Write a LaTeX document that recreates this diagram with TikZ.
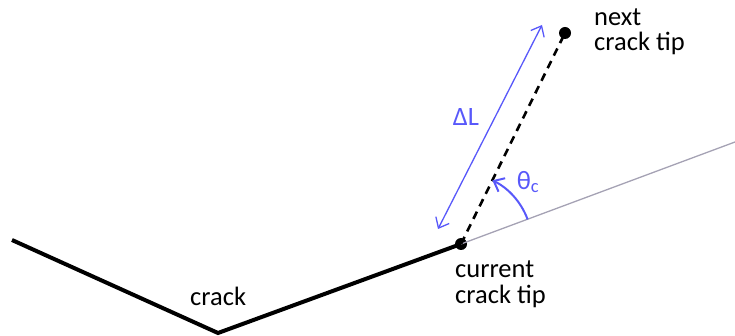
\documentclass[tikz,border=0pt]{standalone}
\usepackage{fontspec}
\setmainfont{Carlito}
\usetikzlibrary{arrows.meta}
\definecolor{angleblue}{RGB}{88,88,250}
\definecolor{pathgray}{RGB}{165,162,180}
\begin{document}
\begin{tikzpicture}[
    x=1pt, y=-1pt,
    every node/.style={font=\fontsize{26.5}{25.8}\selectfont, inner sep=0pt},
    tip/.style={circle, fill, minimum size=12pt},
    crackline/.style={line width=4pt, line join=miter},
    >={Straight Barb[length=9pt,width=15pt]}
  ]
  \useasboundingbox (0,0) rectangle (735,336);
  \coordinate (start) at (12,240);
  \coordinate (kink) at (218,333);
  \node[tip] (current) at (461,244) {};
  \node[tip] (next) at (565,33) {};
  \coordinate (far) at (735,142);
  \coordinate (dlend) at (438,229);
  \coordinate (dlstart) at (542,25);
  % direction of the crack, extended
  \draw[pathgray, line width=1.3pt] (current.center) -- (far);
  \draw[crackline] (start) -- (kink) -- (current.center);
  \draw[dashed, line width=2.6pt, dash pattern=on 8pt off 6pt] (current.center) -- (next.center);
  % increment length and angle
  \draw[<->, angleblue, line width=1.3pt] (dlend) -- (dlstart);
  \draw[->, angleblue, line width=2pt] ([shift={(-20.2:71)}]current.center) arc[start angle=-20.2, end angle=-63.8, radius=71];
  \node[angleblue] (dl) at (466,117) {ΔL};
  \node[angleblue] (theta) at (528,182) {θ\textsubscript{c}};
  \node[anchor=base west, align=left] (nextlabel) at (594,51) {next\\crack tip};
  \node[anchor=base west, align=left] (currentlabel) at (455,303) {current\\crack tip};
  \node[anchor=base west] (cracklabel) at (190,305.5) {crack};
\end{tikzpicture}
\end{document}
